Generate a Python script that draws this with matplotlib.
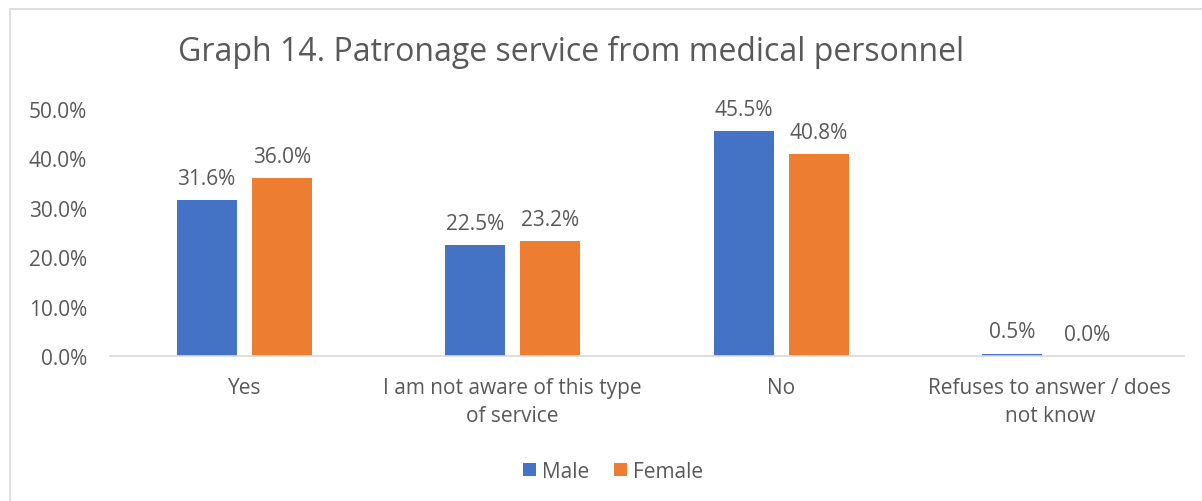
import matplotlib

matplotlib.use('Agg')
import matplotlib.pyplot as plt  # noqa: E402
import numpy as np  # noqa: E402
from matplotlib.patches import Rectangle  # noqa: E402

categories = ['Yes', 'I am not aware of this type\nof service', 'No',
              'Refuses to answer / does\nnot know']
male = [31.6, 22.5, 45.5, 0.5]
female = [36.0, 23.2, 40.8, 0.0]
yticks = [0, 10, 20, 30, 40, 50]

MALE_C = '#4472C4'
FEMALE_C = '#ED7D31'
TEXT_C = '#595959'

plt.rcParams['font.family'] = ['Open Sans', 'DejaVu Sans']

W, H = 1202, 502
fig = plt.figure(figsize=(W / 100, H / 100), dpi=100)
ax = fig.add_axes([110 / W, 1 - 357 / H, (1184 - 110) / W, (357 - 110) / H])

# outer chart border
fig.patches.append(Rectangle((10 / W, -0.1), 1.2, 1 - 10 / H + 0.1, transform=fig.transFigure,
                             fill=False, edgecolor='#D9D9D9', lw=1.2))

x = np.arange(len(categories))
bw = 0.223
off = 0.14
bars_m = ax.bar(x - off, male, bw, color=MALE_C, label='Male')
bars_f = ax.bar(x + off, female, bw, color=FEMALE_C, label='Female')

for bars, vals in ((bars_m, male), (bars_f, female)):
    for b, v in zip(bars, vals):
        ax.annotate(f'{v:.1f}%', (b.get_x() + b.get_width() / 2, v), xytext=(0, 8),
                    textcoords='offset points', ha='center', va='bottom',
                    fontsize=15, color=TEXT_C, clip_on=False)

ax.set_xlim(-0.5, len(categories) - 0.5)
ax.set_ylim(0, 50)
ax.set_yticks(yticks)
ax.set_yticklabels([f'{t:.1f}%' for t in yticks], fontsize=15, color=TEXT_C)
ax.set_xticks(x)
ax.set_xticklabels(categories, fontsize=15, color=TEXT_C, linespacing=1.45)
ax.tick_params(axis='both', length=0)
ax.tick_params(axis='x', pad=15)
ax.tick_params(axis='y', pad=16.5)
for s in ('top', 'right', 'left'):
    ax.spines[s].set_visible(False)
ax.spines['bottom'].set_color('#D9D9D9')
ax.spines['bottom'].set_linewidth(1.2)

fig.text(571 / W, 1 - 52 / H, 'Graph 14. Patronage service from medical personnel',
         ha='center', va='center', fontsize=23, color=TEXT_C)

fig.legend(loc='center', bbox_to_anchor=(0.51, 1 - 472 / H), ncol=2, frameon=False,
           fontsize=15, handlelength=0.6, handleheight=0.6, handletextpad=0.3,
           columnspacing=1.2, labelcolor=TEXT_C)

fig.savefig('out.png', dpi=100)
